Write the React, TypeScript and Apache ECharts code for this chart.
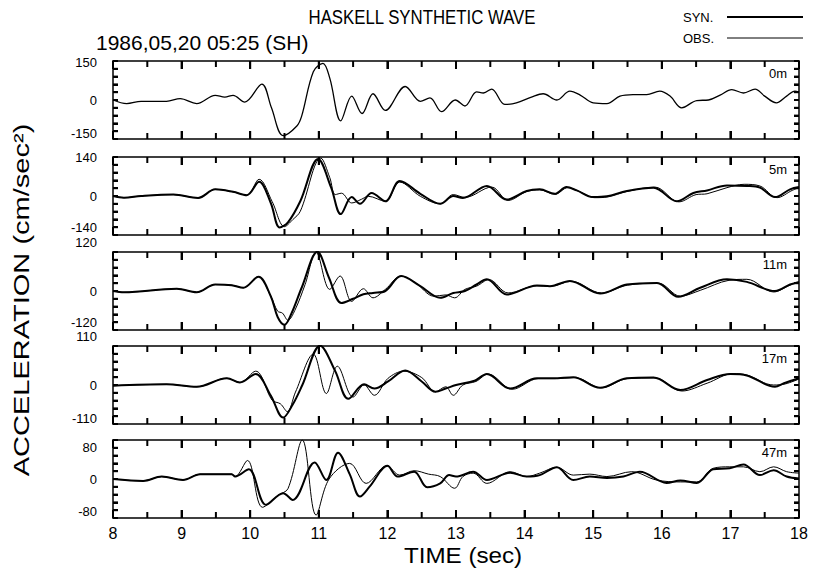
import React, { useEffect, useRef } from 'react';
import * as echarts from 'echarts';

// ---------- data ----------
const X_MIN = 8;
const X_MAX = 18;
const X_MAJOR_TICKS = [8, 9, 10, 11, 12, 13, 14, 15, 16, 17, 18];
const X_MINOR_TICKS = [8.5, 9.5, 10.5, 11.5, 12.5, 13.5, 14.5, 15.5, 16.5, 17.5];
const Y_TICK_FRACTIONS = [-0.8, -0.6, -0.4, -0.2, 0, 0.2, 0.4, 0.6, 0.8];
const DEPTHS = ['0m', '5m', '11m', '17m', '47m'];
const Y_LIMITS = [150, 140, 120, 110, 80];
const TITLE = 'HASKELL SYNTHETIC WAVE';
const SUBTITLE = '1986,05,20 05:25 (SH)';
const Y_TITLE = 'ACCELERATION (cm/sec²)';
const X_TITLE = 'TIME (sec)';
const LEGEND_NAMES = ['SYN.', 'OBS.'];

const WAVE_0M = [
  [8.0, 0], [8.2, -14], [8.41, -5], [8.78, -5], [8.98, 5], [9.22, -14], [9.49, 18], [9.63, 11], [9.75, 18],
  [9.92, -8], [10.17, 61], [10.31, -30], [10.48, -137], [10.68, -100], [10.75, -62], [10.92, 109], [11.06, 141],
  [11.16, 84], [11.32, -80], [11.48, 15], [11.63, -52], [11.79, 24], [11.97, -40], [12.26, 52], [12.48, -5],
  [12.62, 8], [12.79, -45], [12.99, 0], [13.13, -23], [13.3, 31], [13.4, 27], [13.52, 42], [13.71, -17],
  [13.88, -11], [14.1, 11], [14.27, 24], [14.47, 0], [14.66, 34], [14.81, 19], [15.0, -11], [15.2, -14],
  [15.39, 15], [15.58, 21], [15.78, 21], [15.97, 34], [16.12, 15], [16.29, -30], [16.51, -2], [16.68, 0],
  [16.85, 19], [17.02, 40], [17.19, 27], [17.36, 42], [17.5, 15], [17.67, -11], [17.82, 15], [17.94, 34], [18.0, 30],
];

const SYN_5M = [
  [8, 0], [8.16, -6], [8.41, 0], [8.88, 5], [9.24, -7], [9.49, 24], [9.75, 15], [9.95, 3], [10.13, 51], [10.3, -25],
  [10.43, -113], [10.55, -95], [10.73, -19], [10.99, 133], [11.18, 30], [11.32, -65], [11.48, -4], [11.6, -28],
  [11.77, 11], [11.97, -19], [12.18, 54], [12.48, 8], [12.77, -28], [12.96, 0], [13.1, -7], [13.45, 36],
  [13.74, -13], [14.03, 18], [14.22, 24], [14.44, 8], [14.61, 32], [14.76, 20], [15.0, -4], [15.2, -1],
  [15.49, 18], [15.88, 30], [16.22, -19], [16.46, 11], [16.66, 20], [16.95, 38], [17.24, 36], [17.43, 30],
  [17.65, -4], [17.87, 24], [18, 32],
];
const OBS_5M = [
  [8, 0], [8.16, -6], [8.41, 0], [8.88, 5], [9.24, -7], [9.49, 24], [9.75, 15], [9.95, 3], [10.13, 60], [10.32, -20],
  [10.5, -110], [10.62, -85], [10.73, -55], [11.03, 136], [11.16, 66], [11.24, 5], [11.33, 10], [11.48, -25],
  [11.62, -12], [11.72, -1], [11.97, -19], [12.18, 50], [12.48, -1], [12.77, -28], [12.96, 5], [13.13, -5],
  [13.52, 32], [13.76, -16], [14.03, 16], [14.22, 22], [14.44, 6], [14.63, 30], [14.78, 18], [15.02, -6],
  [15.22, -3], [15.49, 16], [15.9, 32], [16.25, -21], [16.5, 5], [16.66, 8], [16.95, 30], [17.2, 42],
  [17.43, 36], [17.68, -6], [17.9, 20], [18, 30],
];

const SYN_11M = [
  [8, 0], [8.16, -4], [8.93, 7], [9.22, -4], [9.49, 20], [9.73, 18], [9.9, 10], [10.12, 44], [10.3, -16],
  [10.4, -80], [10.5, -104], [10.6, -70], [10.75, 10], [10.98, 121], [11.15, 40], [11.33, -37], [11.5, -24],
  [11.65, -10], [11.79, -6], [11.97, 0], [12.2, 46], [12.48, 15], [12.77, -21], [12.96, -6], [13.13, 0],
  [13.3, 20], [13.45, 36], [13.74, -11], [14.18, 17], [14.37, 15], [14.66, 31], [15.1, -8], [15.49, 20],
  [15.93, 25], [16.24, -18], [16.56, 10], [16.95, 36], [17.24, 28], [17.65, 0], [17.87, 20], [18, 28],
];
const OBS_11M = [
  [8, 0], [8.16, -4], [8.93, 7], [9.22, -4], [9.49, 20], [9.73, 18], [9.9, 10], [10.12, 44], [10.3, -16],
  [10.4, -62], [10.47, -68], [10.55, -90], [10.65, -60], [10.8, 20], [10.96, 119], [11.16, 5], [11.31, 46],
  [11.48, -32], [11.65, 7], [11.79, -21], [11.97, 5], [12.2, 46], [12.41, 25], [12.68, -16], [12.85, -12],
  [12.98, -21], [13.13, 5], [13.3, 15], [13.48, 35], [13.76, -6], [14.18, 16], [14.37, 14], [14.68, 30],
  [15.12, -6], [15.5, 18], [15.95, 24], [16.27, -16], [16.56, 2], [16.98, 33], [17.24, 36], [17.63, -3],
  [17.87, 18], [18, 26],
];

const SYN_17M = [
  [8, -2], [8.78, 2], [9.22, -5], [9.66, 19], [9.85, 7], [10.08, 31], [10.3, -30], [10.48, -92], [10.62, -55],
  [10.76, 0], [11.02, 111], [11.24, 39], [11.43, -39], [11.66, 2], [11.81, -10], [12.01, 10], [12.26, 41],
  [12.5, 10], [12.7, -19], [12.85, -10], [13.0, 0], [13.27, 12], [13.45, 31], [13.79, -10], [14.18, 19],
  [14.42, 19], [14.71, 22], [15.1, -8], [15.49, 19], [15.88, 21], [16.27, -14], [16.66, 14], [17.0, 31],
  [17.24, 27], [17.65, -5], [17.78, 5], [18, 19],
];
const OBS_17M = [
  [8, -2], [8.78, 2], [9.22, -5], [9.66, 19], [9.85, 7], [10.08, 39], [10.32, -43], [10.44, -53], [10.54, -75],
  [10.66, -20], [10.92, 87], [11.11, -24], [11.27, 53], [11.5, -34], [11.66, 0], [11.81, -29], [12.01, 19],
  [12.24, 39], [12.5, 21], [12.7, -19], [12.85, -5], [12.96, -29], [13.1, 0], [13.29, 10], [13.47, 31],
  [13.82, -12], [14.2, 18], [14.44, 18], [14.73, 21], [15.12, -8], [15.5, 18], [15.9, 20], [16.29, -17],
  [16.66, 5], [17.04, 32], [17.24, 28], [17.63, 0], [17.8, 3], [18, 17],
];

const SYN_47M = [
  [8, 0], [8.44, -4], [8.71, 5], [9.02, -2], [9.27, 10], [9.73, 10], [9.78, 5], [9.98, 20], [10.23, -53],
  [10.48, -29], [10.62, -43], [10.94, 34], [11.11, -2], [11.28, 54], [11.45, 10], [11.6, -36], [11.75, -14],
  [12.0, 27], [12.15, 5], [12.39, 15], [12.58, -17], [12.77, -9], [12.9, 8], [13.0, 5], [13.25, 15],
  [13.45, -2], [13.79, 13], [14.03, 5], [14.22, 8], [14.47, 24], [14.71, -2], [14.95, 5], [15.2, 2],
  [15.44, 5], [15.68, 15], [16.07, -8], [16.27, -3], [16.51, -8], [16.75, 20], [16.99, 22], [17.19, 30],
  [17.43, 8], [17.63, 18], [17.82, 5], [18, 1],
];
const OBS_47M = [
  [8, 0], [8.44, -4], [8.71, 5], [9.02, -2], [9.27, 10], [9.73, 10], [9.78, 5], [9.96, 38], [10.18, -58],
  [10.41, -33], [10.55, -20], [10.76, 80], [10.96, -74], [11.15, 0], [11.45, 32], [11.69, -9], [11.99, 27],
  [12.18, 8], [12.39, 17], [12.6, 10], [12.77, 5], [12.98, -19], [13.1, 5], [13.25, 12], [13.45, -9],
  [13.79, 15], [14.03, 5], [14.22, 12], [14.47, 24], [14.71, 8], [14.95, 10], [15.2, 5], [15.56, 15],
  [15.92, -2], [16.27, -6], [16.51, -6], [16.75, 22], [16.99, 25], [17.19, 25], [17.43, 15], [17.63, 25],
  [17.82, 15], [18, 12],
];

const SYN_SETS = [null, SYN_5M, SYN_11M, SYN_17M, SYN_47M];
const OBS_SETS = [WAVE_0M, OBS_5M, OBS_11M, OBS_17M, OBS_47M];

// ---------- layout ----------
const W = 818;
const H = 571;
const GRID_LEFT = 113;
const GRID_WIDTH = 686;
const GRID_TOPS = [61, 157, 252, 346, 440];
const GRID_H = 78;
const MAX_LABEL_SHIFT = [1, 0, -10, -10, 7];
const MIN_LABEL_SHIFT = [-6, -8, -8, -6, -7];
const FONT = "'Liberation Sans',Arial,sans-serif";
const INK = '#000';
const MAJOR_LEN = 8;
const MINOR_LEN = 6;
const Y_TICK_LEN = 5;
const TICK_W = 2;

function shiftStyle(s: number) {
  return s >= 0
    ? { padding: [2 * s, 0, 0, 0] }
    : { padding: [0, 0, -2 * s, 0] };
}

// frame tick marks (axis decoration) as small filled rects on the grid borders
function buildTickGraphics() {
  const els: any[] = [];
  const fill = { fill: INK, stroke: 'none' };
  GRID_TOPS.forEach((top, i) => {
    const bottom = top + GRID_H;
    const right = GRID_LEFT + GRID_WIDTH;
    const px = (t: number) => GRID_LEFT + ((t - X_MIN) / (X_MAX - X_MIN)) * GRID_WIDTH;
    const addX = (t: number, len: number) => {
      const x = px(t) - TICK_W / 2;
      els.push({ type: 'rect', z: 100, zlevel: 1, shape: { x, y: top, width: TICK_W, height: len }, style: fill });
      els.push({ type: 'rect', z: 100, zlevel: 1, shape: { x, y: bottom - len, width: TICK_W, height: len }, style: fill });
    };
    X_MAJOR_TICKS.forEach((t) => addX(t, MAJOR_LEN));
    X_MINOR_TICKS.forEach((t) => addX(t, MINOR_LEN));
    Y_TICK_FRACTIONS.forEach((f) => {
      const y = top + ((1 - f) / 2) * GRID_H - TICK_W / 2;
      els.push({ type: 'rect', z: 100, zlevel: 1, shape: { x: GRID_LEFT, y, width: Y_TICK_LEN, height: TICK_W }, style: fill });
      els.push({ type: 'rect', z: 100, zlevel: 1, shape: { x: right - Y_TICK_LEN, y, width: Y_TICK_LEN, height: TICK_W }, style: fill });
    });
  });
  return els;
}

function buildOption() {
  const grids: any[] = [];
  const xAxes: any[] = [];
  const yAxes: any[] = [];
  const series: any[] = [];
  const graphics: any[] = [];

  const axisLine = { show: true, onZero: false, lineStyle: { color: INK, width: 1.5 } };

  GRID_TOPS.forEach((top, i) => {
    const M = Y_LIMITS[i];
    grids.push({ left: GRID_LEFT, width: GRID_WIDTH, top, height: GRID_H, show: false, containLabel: false });
    const xBase = {
      type: 'value',
      gridIndex: i,
      min: X_MIN,
      max: X_MAX,
      interval: 1,
      axisLine,
      axisTick: { show: true, inside: true, length: MAJOR_LEN, lineStyle: { color: INK, width: TICK_W } },
      splitLine: { show: false },
    };
    xAxes.push({
      ...xBase,
      position: 'bottom',
      axisLabel: { show: i === GRID_TOPS.length - 1, fontSize: 16, color: INK, margin: 7, fontFamily: FONT },
    });
    xAxes.push({ ...xBase, position: 'top', axisLabel: { show: false } });

    const yBase = {
      type: 'value',
      gridIndex: i,
      min: -M,
      max: M,
      interval: M / 5,
      axisLine,
      axisTick: { show: true, inside: true, length: Y_TICK_LEN, lineStyle: { color: INK, width: TICK_W } },
      splitLine: { show: false },
    };
    yAxes.push({
      ...yBase,
      position: 'left',
      axisLabel: {
        show: true,
        margin: 16,
        color: INK,
        fontSize: 13,
        fontFamily: FONT,
        formatter: (v: number) => {
          if (Math.abs(v - M) < 1e-6) return `{mx|${M}}`;
          if (Math.abs(v + M) < 1e-6) return `{mn|-${M}}`;
          if (Math.abs(v) < 1e-6) return '0';
          return '';
        },
        rich: {
          mx: { fontSize: 13, fontFamily: FONT, color: INK, ...shiftStyle(MAX_LABEL_SHIFT[i]) },
          mn: { fontSize: 13, fontFamily: FONT, color: INK, ...shiftStyle(MIN_LABEL_SHIFT[i]) },
        },
      },
    });
    yAxes.push({ ...yBase, position: 'right', axisLabel: { show: false } });

    const syn = SYN_SETS[i];
    if (syn) {
      series.push({
        type: 'line',
        name: LEGEND_NAMES[0],
        xAxisIndex: 2 * i,
        yAxisIndex: 2 * i,
        data: syn,
        symbol: 'none',
        smooth: 0.35,
        lineStyle: { color: INK, width: 2 },
        z: 3,
      });
    }
    series.push({
      type: 'line',
      name: LEGEND_NAMES[1],
      xAxisIndex: 2 * i,
      yAxisIndex: 2 * i,
      data: OBS_SETS[i],
      symbol: 'none',
      smooth: 0.35,
      lineStyle: { color: INK, width: syn ? 1 : 1.3 },
      z: 2,
    });

    graphics.push({
      type: 'text',
      x: GRID_LEFT + GRID_WIDTH - 12,
      y: top + 12,
      style: { text: DEPTHS[i], fontSize: 13, fontFamily: FONT, fill: INK, textAlign: 'right', textVerticalAlign: 'middle' },
    });
  });

  graphics.push(
    { type: 'text', x: 422, y: 17, scaleX: 0.8, style: { text: TITLE, fontSize: 21, fontFamily: FONT, fill: INK, textAlign: 'center', textVerticalAlign: 'middle' } },
    { type: 'text', x: 96, y: 43, scaleX: 1.05, style: { text: SUBTITLE, fontSize: 20, fontFamily: FONT, fill: INK, textAlign: 'left', textVerticalAlign: 'middle' } },
    { type: 'text', x: 21, y: 300, rotation: Math.PI / 2, scaleX: 1.32, style: { text: Y_TITLE, fontSize: 22, fontFamily: FONT, fill: INK, textAlign: 'center', textVerticalAlign: 'middle' } },
    { type: 'text', x: 463, y: 555, scaleX: 1.1, style: { text: X_TITLE, fontSize: 22, fontFamily: FONT, fill: INK, textAlign: 'center', textVerticalAlign: 'middle' } },
    { type: 'text', x: 683, y: 17, style: { text: LEGEND_NAMES[0], fontSize: 13, fontFamily: FONT, fill: INK, textAlign: 'left', textVerticalAlign: 'middle' } },
    { type: 'line', shape: { x1: 727, y1: 17, x2: 803, y2: 17 }, style: { stroke: INK, lineWidth: 2 } },
    { type: 'text', x: 683, y: 38, style: { text: LEGEND_NAMES[1], fontSize: 13, fontFamily: FONT, fill: INK, textAlign: 'left', textVerticalAlign: 'middle' } },
    { type: 'line', shape: { x1: 727, y1: 38, x2: 803, y2: 38 }, style: { stroke: INK, lineWidth: 1 } },
    ...buildTickGraphics(),
  );

  return {
    animation: false,
    backgroundColor: '#fff',
    grid: grids,
    xAxis: xAxes,
    yAxis: yAxes,
    series,
    graphic: graphics,
  };
}

export default function App() {
  const ref = useRef<HTMLDivElement>(null);
  useEffect(() => {
    if (!ref.current) return;
    const chart = echarts.init(ref.current, null, { renderer: 'svg' });
    chart.setOption(buildOption() as any);
    return () => chart.dispose();
  }, []);
  return <div ref={ref} style={{ position: 'absolute', left: 0, top: 0, width: W, height: H, background: '#fff' }} />;
}
